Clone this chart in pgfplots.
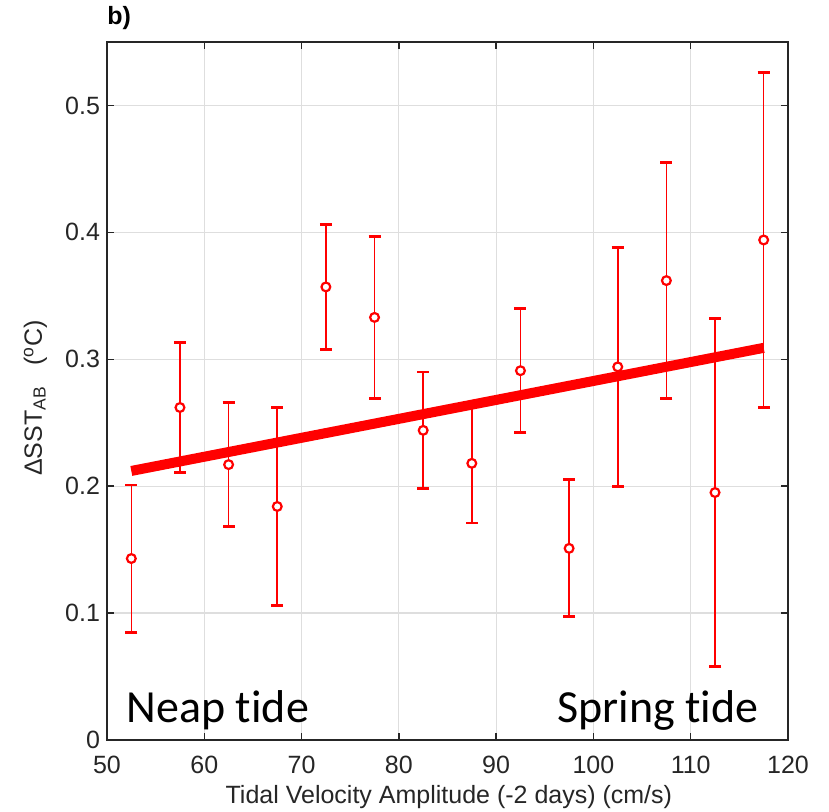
\documentclass[border=0pt]{standalone}
\usepackage{fontspec}
\setmainfont{Liberation Sans}
\newfontfamily\calibri[Ligatures=NoCommon]{Carlito}
\usepackage{pgfplots}
\usepackage{pgfplotstable}
\pgfplotsset{compat=1.18}
\usetikzlibrary{calc}

\definecolor{axgray}{RGB}{38,38,38}
\definecolor{gridgray}{RGB}{222,222,222}
\definecolor{mred}{RGB}{255,0,0}

% x = tidal velocity, y = dSST, e = half error bar
\pgfplotstableread{
x      y       e
52.5   0.143   0.058
57.5   0.262   0.051
62.5   0.217   0.049
67.5   0.184   0.078
72.5   0.357   0.049
77.5   0.333   0.064
82.5   0.244   0.046
87.5   0.218   0.047
92.5   0.291   0.049
97.5   0.151   0.054
102.5  0.294   0.094
107.5  0.362   0.093
112.5  0.195   0.137
117.5  0.394   0.132
}\sstdata

\begin{document}
\begin{tikzpicture}
\begin{axis}[
  scale only axis, width=340.5pt, height=349pt,
  xmin=50, xmax=120, ymin=0, ymax=0.55,
  xtick={50,60,...,120},
  ytick={0,0.1,0.2,0.3,0.4,0.5},
  yticklabels={0,0.1,0.2,0.3,0.4,0.5},
  tick align=inside, major tick length=3.5pt,
  grid=major, grid style={gridgray, line width=0.6pt},
  axis line style={axgray, line width=0.7pt},
  tick style={axgray, line width=0.7pt},
  /pgf/number format/assume math mode=true,
  tick label style={font=\fontsize{12.5}{14}\selectfont, text=axgray},
  xticklabel style={yshift=-4.5pt},
  xlabel={Tidal Velocity Amplitude (-2 days) (cm/s)},
  ylabel={ΔSST\textsubscript{AB}\ \ \ (\textsuperscript{o}C)},
  label style={font=\fontsize{12.5}{14}\selectfont, text=axgray},
  xlabel style={at={(axis description cs:0.502,-0.082)}, anchor=center},
  ylabel style={at={(axis description cs:-0.105,0.49)}, anchor=center},
  clip=false,
]
\coordinate (bl) at (rel axis cs:0,0);
\coordinate (tr) at (rel axis cs:1,1);

\addplot[mred, line width=5pt, line cap=butt] coordinates {(52.5,0.212) (117.5,0.309)};

\addplot[mred, only marks, mark=*, mark size=2.2pt,
  mark options={fill=white, draw=mred, line width=1.1pt},
  error bars/.cd, y dir=both, y explicit,
  error bar style={mred, line width=0.8pt},
  error mark options={rotate=90, mark size=3pt, line width=1.4pt, mred}]
  table[x=x, y=y, y error=e] {\sstdata};

\node[anchor=base west, font=\calibri\fontsize{23}{26}\selectfont]
  at (axis cs:51.3,0.0134) {Neap tide};
\node[anchor=base east, font=\calibri\fontsize{23}{26}\selectfont]
  at (axis cs:117.7,0.0134) {Spring tide};
\node[anchor=west, inner sep=0pt, font=\bfseries\fontsize{12.5}{14}\selectfont]
  at (axis description cs:0,1.034) {b)};
\end{axis}
\pgfresetboundingbox
\path ($(bl)+(-53.5pt,-36pt)$) rectangle ($(tr)+(20.5pt,21pt)$);
\end{tikzpicture}
\end{document}
